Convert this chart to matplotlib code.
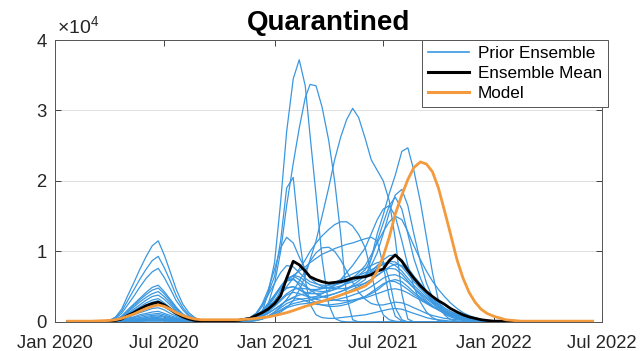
import numpy as np
import matplotlib
matplotlib.use("Agg")
import matplotlib.pyplot as plt
import matplotlib.dates as mdates
from matplotlib.lines import Line2D

plt.rcParams['font.family'] = ['Liberation Sans', 'DejaVu Sans']
plt.rcParams['mathtext.fontset'] = 'custom'
plt.rcParams['mathtext.rm'] = 'Liberation Sans'

# sample dates shared by every series
dates = np.array([
    '2020-01-22', '2020-03-01', '2020-04-01', '2020-04-11', '2020-04-21', '2020-05-01',
    '2020-05-11', '2020-05-21', '2020-06-01', '2020-06-11', '2020-06-21', '2020-07-01',
    '2020-07-11', '2020-07-21', '2020-08-01', '2020-08-11', '2020-08-21', '2020-09-01',
    '2020-10-01', '2020-11-01', '2020-11-21', '2020-12-01', '2020-12-11', '2020-12-21',
    '2021-01-01', '2021-01-11', '2021-01-21', '2021-02-01', '2021-02-11', '2021-02-21',
    '2021-03-01', '2021-03-11', '2021-03-21', '2021-04-01', '2021-04-11', '2021-04-21',
    '2021-05-01', '2021-05-11', '2021-05-21', '2021-06-01', '2021-06-11', '2021-06-21',
    '2021-07-01', '2021-07-11', '2021-07-21', '2021-08-01', '2021-08-11', '2021-08-21',
    '2021-09-01', '2021-09-11', '2021-09-21', '2021-10-01', '2021-10-11', '2021-10-21',
    '2021-11-01', '2021-11-11', '2021-11-21', '2021-12-01', '2021-12-11', '2021-12-21',
    '2022-01-01', '2022-01-21', '2022-02-15', '2022-03-15', '2022-06-15'], dtype='datetime64[D]')

# values in hundreds of people
m01 = [0, 0, 1, 2, 5, 10, 14, 19, 24, 28, 30, 25, 19, 12, 7, 3, 2, 1,
       0, 1, 2, 5, 14, 40,
       85, 170, 270, 345, 372, 335, 265, 180, 90, 25, 5, 1, 0, 0, 0, 0, 0, 0,
       0, 0, 0, 0, 0, 0, 0, 0, 0, 0, 0, 0, 0, 0, 0, 0, 0, 0,
       0, 0, 0, 0, 0]
m02 = [0, 0, 0, 1, 2, 4, 6, 8, 10, 11, 12, 10, 7, 5, 3, 1, 1, 0,
       0, 1, 2, 4, 10, 25,
       55, 100, 165, 225, 275, 318, 337, 335, 305, 258, 200, 125, 35, 3, 0, 0, 0, 0,
       0, 0, 0, 0, 0, 0, 0, 0, 0, 0, 0, 0, 0, 0, 0, 0, 0, 0,
       0, 0, 0, 0, 0]
m03 = [0, 0, 0, 0, 1, 3, 4, 5, 6, 8, 8, 7, 5, 3, 2, 1, 0, 0,
       0, 0, 1, 2, 4, 7,
       10, 14, 20, 30, 45, 65, 88, 115, 150, 190, 230, 262, 287, 303, 290, 260, 230, 215,
       200, 172, 118, 40, 4, 0, 0, 0, 0, 0, 0, 0, 0, 0, 0, 0, 0, 0,
       0, 0, 0, 0, 0]
m04 = [0, 0, 1, 3, 8, 17, 25, 33, 42, 49, 52, 43, 32, 21, 11, 6, 3, 1,
       1, 2, 4, 10, 22, 40,
       65, 115, 190, 205, 120, 60, 25, 10, 6, 5, 5, 6, 7, 8, 9, 10, 12, 14,
       16, 18, 19, 18, 15, 12, 9, 6, 4, 3, 2, 1, 1, 0, 0, 0, 0, 0,
       0, 0, 0, 0, 0]
m05 = [0, 0, 0, 0, 1, 2, 2, 3, 4, 5, 5, 4, 3, 2, 1, 1, 0, 0,
       0, 1, 2, 3, 5, 8,
       12, 17, 22, 26, 28, 30, 31, 33, 35, 37, 40, 43, 46, 50, 54, 60, 90, 125,
       152, 182, 208, 242, 247, 215, 170, 120, 70, 30, 10, 3, 1, 0, 0, 0, 0, 0,
       0, 0, 0, 0, 0]
m06 = [0, 0, 0, 1, 2, 5, 7, 10, 12, 14, 15, 12, 9, 6, 3, 2, 1, 0,
       0, 1, 2, 4, 8, 14,
       22, 30, 38, 42, 40, 37, 35, 35, 36, 38, 40, 43, 47, 52, 58, 66, 80, 98,
       125, 155, 180, 188, 165, 125, 85, 55, 35, 22, 13, 8, 5, 3, 2, 1, 0, 0,
       0, 0, 0, 0, 0]
m07 = [0, 0, 0, 1, 3, 6, 10, 13, 16, 19, 20, 17, 12, 8, 4, 2, 1, 0,
       0, 1, 3, 6, 12, 20,
       30, 40, 48, 50, 46, 42, 40, 40, 41, 43, 46, 50, 55, 60, 66, 74, 90, 115,
       140, 165, 177, 160, 125, 90, 62, 42, 28, 18, 11, 7, 4, 3, 2, 1, 0, 0,
       0, 0, 0, 0, 0]
m08 = [0, 0, 0, 0, 0, 1, 1, 2, 2, 3, 3, 2, 2, 1, 1, 0, 0, 0,
       0, 0, 1, 2, 4, 8,
       14, 20, 26, 30, 32, 33, 34, 36, 40, 45, 52, 60, 70, 80, 92, 105, 125, 145,
       160, 165, 150, 115, 80, 50, 28, 14, 6, 2, 1, 0, 0, 0, 0, 0, 0, 0,
       0, 0, 0, 0, 0]
m09 = [0, 0, 1, 2, 6, 12, 18, 24, 31, 36, 38, 32, 24, 15, 8, 4, 2, 1,
       1, 2, 4, 8, 15, 26,
       38, 50, 58, 60, 55, 50, 46, 44, 43, 44, 46, 50, 56, 62, 70, 80, 95, 112,
       128, 142, 150, 145, 128, 108, 88, 72, 58, 46, 36, 27, 19, 13, 9, 6, 4, 2,
       1, 1, 0, 0, 0]
m10 = [0, 0, 1, 3, 7, 14, 21, 28, 35, 40, 43, 36, 27, 17, 9, 5, 2, 1,
       1, 2, 4, 7, 12, 20,
       30, 40, 50, 62, 75, 88, 100, 112, 122, 131, 138, 142, 142, 136, 124, 105, 70, 30,
       10, 3, 1, 0, 0, 0, 0, 0, 0, 0, 0, 0, 0, 0, 0, 0, 0, 0,
       0, 0, 0, 0, 0]
m11 = [0, 0, 1, 2, 5, 11, 16, 21, 27, 31, 33, 27, 20, 13, 7, 4, 2, 1,
       1, 2, 4, 8, 14, 24,
       36, 48, 58, 66, 72, 78, 84, 90, 96, 100, 104, 107, 110, 112, 115, 118, 120, 115,
       80, 35, 8, 1, 0, 0, 0, 0, 0, 0, 0, 0, 0, 0, 0, 0, 0, 0,
       0, 0, 0, 0, 0]
m12 = [0, 0, 2, 5, 12, 24, 36, 49, 62, 71, 76, 63, 47, 30, 17, 8, 4, 2,
       1, 3, 6, 12, 25, 45,
       75, 105, 120, 112, 92, 75, 62, 55, 50, 48, 47, 47, 48, 50, 52, 55, 60, 66,
       72, 76, 75, 68, 58, 48, 38, 30, 23, 17, 12, 9, 6, 4, 3, 2, 1, 1,
       0, 0, 0, 0, 0]
m13 = [0, 0, 2, 7, 18, 37, 55, 74, 93, 108, 115, 95, 71, 46, 25, 13, 6, 2,
       1, 2, 3, 5, 8, 12,
       18, 24, 30, 34, 33, 30, 27, 25, 24, 24, 25, 26, 28, 30, 32, 34, 37, 40,
       43, 46, 47, 45, 41, 36, 31, 26, 21, 17, 13, 10, 7, 5, 4, 3, 2, 1,
       1, 0, 0, 0, 0]
m14 = [0, 0, 2, 6, 15, 30, 45, 60, 75, 87, 93, 77, 58, 37, 20, 10, 5, 2,
       1, 2, 4, 7, 12, 20,
       30, 40, 48, 50, 46, 40, 35, 32, 30, 30, 31, 33, 35, 38, 41, 45, 50, 56,
       62, 66, 67, 63, 56, 48, 40, 33, 26, 20, 15, 11, 8, 6, 4, 3, 2, 1,
       1, 0, 0, 0, 0]
m15 = [0, 0, 1, 3, 8, 15, 23, 31, 39, 45, 48, 40, 30, 19, 11, 5, 2, 1,
       1, 3, 6, 12, 22, 38,
       55, 70, 80, 78, 70, 62, 57, 54, 52, 52, 53, 55, 57, 60, 63, 67, 72, 80,
       88, 94, 95, 88, 77, 65, 54, 44, 35, 27, 20, 15, 11, 8, 5, 4, 3, 2,
       1, 0, 0, 0, 0]
m16 = [0, 0, 1, 2, 4, 8, 12, 16, 20, 24, 25, 21, 16, 10, 6, 3, 1, 1,
       1, 2, 5, 9, 16, 26,
       38, 50, 60, 66, 64, 58, 53, 50, 48, 48, 49, 51, 54, 57, 61, 65, 70, 76,
       82, 86, 85, 78, 68, 57, 47, 38, 30, 23, 17, 12, 9, 6, 4, 3, 2, 1,
       1, 0, 0, 0, 0]
m17 = [0, 0, 0, 1, 2, 3, 5, 6, 8, 9, 10, 8, 6, 4, 2, 1, 1, 0,
       0, 1, 3, 6, 10, 16,
       24, 32, 40, 46, 48, 47, 46, 46, 47, 49, 52, 55, 58, 62, 66, 70, 74, 78,
       82, 84, 80, 72, 62, 52, 43, 35, 28, 22, 16, 12, 9, 6, 4, 3, 2, 1,
       1, 0, 0, 0, 0]
m18 = [0, 0, 0, 0, 0, 1, 1, 1, 2, 2, 2, 2, 1, 1, 0, 0, 0, 0,
       0, 1, 2, 4, 7, 12,
       18, 24, 30, 35, 38, 40, 42, 45, 48, 52, 56, 60, 64, 68, 72, 76, 80, 84,
       86, 60, 20, 3, 0, 0, 0, 0, 0, 0, 0, 0, 0, 0, 0, 0, 0, 0,
       0, 0, 0, 0, 0]
m19 = [0, 0, 0, 0, 0, 1, 1, 1, 2, 2, 2, 2, 1, 1, 0, 0, 0, 0,
       0, 1, 2, 3, 5, 8,
       12, 16, 20, 23, 25, 26, 27, 28, 30, 32, 35, 38, 42, 46, 50, 55, 60, 66,
       72, 78, 82, 80, 72, 62, 51, 41, 32, 25, 19, 14, 10, 7, 5, 3, 2, 1,
       1, 0, 0, 0, 0]
m20 = [0, 0, 0, 0, 1, 2, 3, 4, 5, 6, 6, 5, 4, 2, 1, 1, 0, 0,
       0, 1, 3, 6, 12, 22,
       35, 50, 62, 65, 60, 52, 45, 40, 36, 33, 31, 30, 30, 31, 33, 36, 40, 45,
       52, 58, 60, 57, 50, 42, 35, 28, 22, 17, 13, 10, 7, 5, 4, 3, 2, 1,
       1, 0, 0, 0, 0]
m21 = [0, 0, 0, 0, 0, 0, 0, 1, 1, 1, 1, 1, 1, 0, 0, 0, 0, 0,
       0, 0, 1, 2, 4, 8,
       14, 22, 32, 44, 58, 72, 86, 98, 105, 106, 100, 88, 72, 56, 42, 32, 26, 24,
       24, 26, 28, 27, 24, 20, 16, 12, 9, 7, 5, 4, 3, 2, 1, 1, 0, 0,
       0, 0, 0, 0, 0]
m22 = [0, 0, 0, 0, 1, 1, 2, 3, 3, 4, 4, 3, 2, 2, 1, 0, 0, 0,
       0, 1, 2, 4, 8, 15,
       28, 45, 58, 62, 52, 40, 32, 27, 24, 22, 22, 23, 25, 28, 32, 36, 42, 48,
       54, 58, 57, 52, 46, 39, 33, 27, 22, 17, 13, 10, 7, 5, 4, 3, 2, 1,
       1, 0, 0, 0, 0]
prior_ensemble = [m01, m02, m03, m04, m05, m06, m07, m08, m09, m10, m11,
                  m12, m13, m14, m15, m16, m17, m18, m19, m20, m21, m22]

ensemble_mean = [0, 0, 1, 2, 4, 9, 13, 18, 23, 26, 28, 24, 18, 12, 7, 4, 2, 1,
                 1, 2, 5, 9, 13, 18,
                 26, 37, 62, 86, 81, 72, 64, 60, 57, 55, 56, 57, 59, 62, 63, 64, 67, 72,
                 75, 87, 95, 86, 73, 62, 51, 43, 36, 30, 25, 19, 14, 10, 7, 5, 3, 2,
                 1, 1, 0, 0, 0]
model = [1, 1, 2, 3, 5, 8, 11, 15, 19, 22, 24, 22, 18, 13, 9, 6, 4, 3,
         3, 3, 4, 5, 6, 7,
         9, 11, 13, 16, 19, 22, 24, 27, 29, 32, 35, 38, 41, 44, 47, 51, 58, 72,
         93, 120, 153, 180, 202, 219, 227, 224, 213, 190, 158, 125, 88, 62, 42, 28, 18, 12,
         8, 3, 1, 1, 1]

for m in prior_ensemble + [ensemble_mean, model]:
    assert len(m) == len(dates), len(m)

blue = '#3a97e0'
black = '#000000'
orange = '#f39a3c'

fig = plt.figure(figsize=(6.4, 3.51), dpi=100)
ax = fig.add_axes([0.086, 0.083, 0.855, 0.803])

for m in prior_ensemble:
    ax.plot(dates, np.array(m) * 100, color=blue, lw=0.9)
ax.plot(dates, np.array(ensemble_mean) * 100, color=black, lw=2.0)
ax.plot(dates, np.array(model) * 100, color=orange, lw=2.0)

ax.set_xlim(np.datetime64('2020-01-01'), np.datetime64('2022-07-01'))
ax.set_ylim(0, 40000)
ax.xaxis.set_major_locator(mdates.MonthLocator(bymonth=[1, 7]))
ax.xaxis.set_major_formatter(mdates.DateFormatter('%b %Y'))
ax.set_yticks([0, 10000, 20000, 30000, 40000])
ax.set_yticklabels(['0', '1', '2', '3', '4'])
ax.text(0.003, 1.006, r'$\times10^{4}$', transform=ax.transAxes,
        ha='left', va='bottom', fontsize=14, color='#262626')

ax.tick_params(direction='in', length=4, width=0.6, top=True, right=True,
               labelsize=13.3, colors='#262626')
ax.tick_params(axis='x', pad=9.5)
ax.tick_params(axis='y', pad=6)
ax.yaxis.grid(True, color='#e0e0e0', lw=0.7)
ax.set_axisbelow(True)
for s in ax.spines.values():
    s.set_color('#555555')
    s.set_linewidth(0.7)

ax.set_title('Quarantined', fontsize=20, fontweight='bold', pad=7)

handles = [Line2D([], [], color=blue, lw=1.2),
           Line2D([], [], color=black, lw=2.2),
           Line2D([], [], color=orange, lw=2.2)]
leg = ax.legend(handles, ['Prior Ensemble', 'Ensemble Mean', 'Model'],
                loc='upper right', bbox_to_anchor=(1.01, 1.0), fontsize=12.3,
                fancybox=False, framealpha=1, edgecolor='#555555',
                handlelength=2.4, labelspacing=0.3, borderpad=0.35,
                handletextpad=0.5, borderaxespad=0)
leg.get_frame().set_linewidth(0.7)

fig.savefig('out.png', dpi=100)
